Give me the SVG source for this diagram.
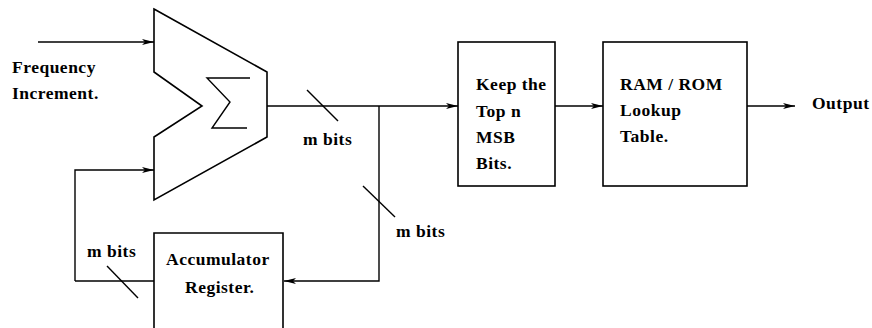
<svg xmlns="http://www.w3.org/2000/svg" width="872" height="328" viewBox="0 0 872 328">
<style>
  .ln { fill: none; stroke: #000; stroke-width: 1.4; }
  .box { fill: #fff; stroke: #000; stroke-width: 1.6; }
  .t { font-family: "Liberation Serif", "Times New Roman", serif; font-weight: bold; font-size: 17.5px; fill: #000; letter-spacing: 0.5px; }
</style>
<defs>
  <marker id="ah" viewBox="0 0 12 8" refX="12" refY="4" markerWidth="12" markerHeight="8" markerUnits="userSpaceOnUse" orient="auto">
    <path d="M0,1 L12,4 L0,7 L3,4 Z" fill="#000"/>
  </marker>
</defs>
<rect width="872" height="328" fill="#fff"/>
<g id="connectors">
  <line class="ln" x1="38" y1="42" x2="154" y2="42" marker-end="url(#ah)"/>
  <polyline class="ln" points="75,281 75,170 154,170" marker-end="url(#ah)"/>
  <line class="ln" x1="75" y1="281" x2="154" y2="281"/>
  <line class="ln" x1="267" y1="106" x2="458" y2="106" marker-end="url(#ah)"/>
  <polyline class="ln" points="379,106 379,281 284,281" marker-end="url(#ah)"/>
  <line class="ln" x1="555" y1="106" x2="603" y2="106" marker-end="url(#ah)"/>
  <line class="ln" x1="747" y1="106" x2="795" y2="106" marker-end="url(#ah)"/>
  <line class="ln" x1="307" y1="90" x2="338" y2="121"/>
  <line class="ln" x1="363" y1="186" x2="395" y2="217"/>
  <line class="ln" x1="107" y1="266" x2="138" y2="298"/>
  <text class="t" x="303" y="145">m bits</text>
  <text class="t" x="396" y="237">m bits</text>
  <text class="t" x="87" y="257">m bits</text>
</g>
<g id="input-label">
  <text class="t" x="12" y="73">Frequency</text>
  <text class="t" x="12" y="99">Increment.</text>
</g>
<g id="adder">
  <polygon class="box" points="154,9 267,72 267,137 154,200 154,137 202,106 154,72"/>
  <polyline class="ln" points="250,78 207,78 230,102 212,128 247,128"/>
</g>
<g id="keep-msb">
  <rect class="box" x="458" y="42" width="97" height="144"/>
  <text class="t" x="476" y="90">Keep the</text>
  <text class="t" x="476" y="117">Top n</text>
  <text class="t" x="476" y="143">MSB</text>
  <text class="t" x="476" y="169">Bits.</text>
</g>
<g id="lookup">
  <rect class="box" x="603" y="42" width="144" height="144"/>
  <text class="t" x="620" y="90">RAM / ROM</text>
  <text class="t" x="620" y="116">Lookup</text>
  <text class="t" x="620" y="142">Table.</text>
</g>
<g id="accumulator">
  <path class="box" d="M154,330 L154,233 L283,233 L283,330"/>
  <text class="t" x="166" y="265">Accumulator</text>
  <text class="t" x="185" y="293">Register.</text>
</g>
<g id="output-label">
  <text class="t" x="812" y="109">Output</text>
</g>
</svg>
